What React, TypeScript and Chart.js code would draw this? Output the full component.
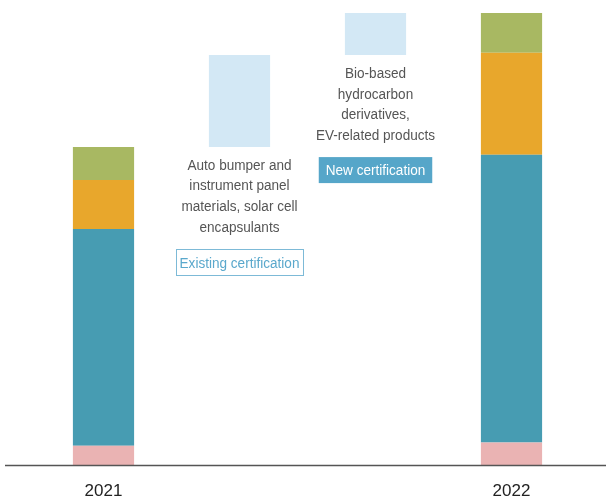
import React, { useEffect, useRef } from "react";
import { Chart, registerables } from "chart.js";

Chart.register(...registerables);

const categories = ["2021", "", "", "2022"];
const pinkValues = [4.4, null, null, 5.1];
const tealValues = [47.9, null, null, 63.6];
const orangeValues = [10.8, null, null, 22.5];
const greenValues = [7.3, null, null, 8.8];
const additionRanges: (number[] | null)[] = [null, [70.4, 90.7], [90.7, 100], null];
const annotationLines = [
  [],
  ["Auto bumper and", "instrument panel", "materials, solar cell", "encapsulants"],
  ["Bio-based", "hydrocarbon", "derivatives,", "EV-related products"],
  [],
];
const badgeLabels = ["", "Existing certification", "New certification", ""];

const TEXT_FONT = "15.5px 'Liberation Sans', Arial, sans-serif";
const SQUEEZE = 0.875;

function buildStacked(series: (number | null)[][]) {
  const out: ((number[] | null)[])[] = series.map(() => []);
  for (let i = 0; i < categories.length; i++) {
    let base = 0;
    series.forEach((s, k) => {
      const v = s[i];
      if (v == null) {
        out[k].push(null);
      } else {
        out[k].push([base, base + v]);
        base += v;
      }
    });
  }
  return out;
}

function narrowText(ctx: CanvasRenderingContext2D, text: string, x: number, y: number) {
  ctx.save();
  ctx.translate(x, y);
  ctx.scale(SQUEEZE, 1);
  ctx.fillText(text, 0, 0);
  ctx.restore();
}

const annotationPlugin = {
  id: "annotations",
  afterDatasetsDraw(chart: any) {
    const { ctx, scales } = chart;
    const x = scales.x;
    const y = scales.y;
    const y0 = y.getPixelForValue(0);
    ctx.save();
    ctx.strokeStyle = "#555555";
    ctx.lineWidth = 1.5;
    ctx.beginPath();
    ctx.moveTo(5, y0);
    ctx.lineTo(chart.width, y0);
    ctx.stroke();

    for (let i = 0; i < categories.length; i++) {
      const r = additionRanges[i];
      if (!r) continue;
      const cx = x.getPixelForValue(i);
      const bottom = y.getPixelForValue(r[0]);
      ctx.font = TEXT_FONT;
      ctx.fillStyle = "#555555";
      ctx.textAlign = "center";
      ctx.textBaseline = "middle";
      annotationLines[i].forEach((line, k) => {
        narrowText(ctx, line, cx, bottom + 18.5 + k * 20.7);
      });
      const label = badgeLabels[i];
      if (label) {
        const by = bottom + 115;
        const tw = ctx.measureText(label).width * SQUEEZE;
        if (i === 1) {
          const w = tw + 7;
          ctx.strokeStyle = "#7dbad7";
          ctx.lineWidth = 1;
          ctx.strokeRect(Math.round(cx - w / 2) + 0.5, Math.round(by - 13) + 0.5, Math.round(w), 26);
          ctx.fillStyle = "#5aa8cc";
          narrowText(ctx, label, cx, by + 1.5);
        } else {
          const w = tw + 14;
          ctx.fillStyle = "#56a6c9";
          ctx.fillRect(cx - w / 2, by - 13, w, 26);
          ctx.fillStyle = "#ffffff";
          narrowText(ctx, label, cx, by + 1);
        }
      }
    }
    ctx.restore();
  },
};

export default function App() {
  const ref = useRef<HTMLCanvasElement>(null);
  useEffect(() => {
    if (!ref.current) return;
    const [pink, teal, orange, green] = buildStacked([pinkValues, tealValues, orangeValues, greenValues]);
    const chart = new Chart(ref.current, {
      type: "bar",
      data: {
        labels: categories,
        datasets: [
          { label: "a", data: pink as any, backgroundColor: "#eab3b3" },
          { label: "b", data: teal as any, backgroundColor: "#479cb2" },
          { label: "c", data: orange as any, backgroundColor: "#e8a72c" },
          { label: "d", data: green as any, backgroundColor: "#a8b862" },
          { label: "e", data: additionRanges as any, backgroundColor: "#d3e8f5" },
        ],
      },
      options: {
        animation: false,
        responsive: false,
        layout: { padding: { left: 35.5, right: 26.5, top: 13, bottom: 0 } },
        datasets: { bar: { grouped: false, categoryPercentage: 1, barPercentage: 0.45, borderWidth: 0 } } as any,
        plugins: { legend: { display: false }, tooltip: { enabled: false } },
        scales: {
          x: {
            grid: { display: false, drawTicks: false },
            border: { display: false },
            ticks: {
              color: "#222222",
              padding: 16,
              font: { family: "'Liberation Sans', Arial, sans-serif", size: 17 },
            },
          },
          y: { display: false, min: 0, max: 100 },
        },
      },
      plugins: [annotationPlugin],
    });
    return () => chart.destroy();
  }, []);
  return (
    <div style={{ position: "absolute", left: 0, top: 0, width: 606, height: 500, overflow: "hidden" }}>
      <canvas ref={ref} width={606} height={518} style={{ display: "block" }} />
    </div>
  );
}
